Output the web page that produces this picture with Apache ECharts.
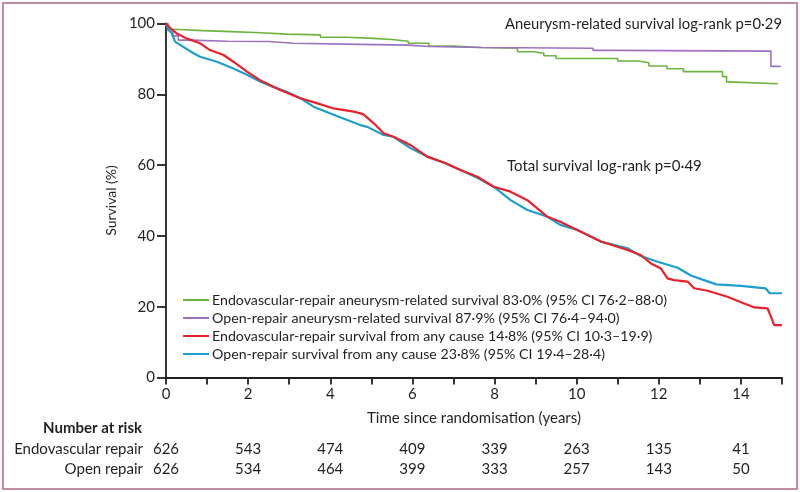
<!DOCTYPE html>
<html><head><meta charset="utf-8">
<script src="https://cdn.jsdelivr.net/npm/echarts@6/dist/echarts.min.js"></script>
<style>html,body{margin:0;padding:0;background:#fff}#c{width:800px;height:492px}</style>
</head><body><div id="c"></div>
<script>
const seriesNames = [
  'Endovascular-repair aneurysm-related survival 83·0% (95% CI 76·2–88·0)',
  'Open-repair aneurysm-related survival 87·9% (95% CI 76·4–94·0)',
  'Endovascular-repair survival from any cause 14·8% (95% CI 10·3–19·9)',
  'Open-repair survival from any cause 23·8% (95% CI 19·4–28·4)'
];
const endoAneurysm = [[0,100],[0.03,99.0],[0.08,98.3],[0.3,98.0],[0.9,97.7],[1.6,97.4],[2.3,97.0],[2.95,96.8],[3.76,96.1],[4.4,95.8],[5.05,95.5],[5.5,95.0],[5.9,94.4],[6.4,93.6],[7.0,93.2],[7.66,93.0],[8.56,92.0],[8.95,91.6],[9.2,90.9],[9.5,90.1],[11.0,89.4],[11.5,88.9],[11.76,88.0],[12.2,87.2],[12.6,86.4],[13.55,85.0],[13.65,83.5],[13.7,83.0],[14.9,83.0]];
const openAneurysm = [[0,100],[0.05,98.0],[0.17,96.5],[0.3,95.3],[0.6,95.0],[1.5,94.9],[2.5,94.4],[3.1,94.1],[4.7,93.9],[5.9,93.5],[6.4,93.2],[7.7,93.0],[10.4,92.4],[11.0,92.2],[14.73,87.9],[14.97,87.9]];
const endoAnyCause = [[0,100],[0.1,98.8],[0.26,97.2],[0.5,95.8],[0.83,94.4],[1.07,92.5],[1.4,91.1],[1.64,89.2],[1.97,86.4],[2.29,84.0],[2.78,81.2],[3.27,78.9],[3.67,77.5],[4.08,76.0],[4.57,75.1],[4.8,74.4],[5.06,71.8],[5.3,69.0],[5.54,68.0],[5.95,65.7],[6.36,62.4],[6.8,60.6],[7.17,58.6],[7.58,56.7],[7.98,53.9],[8.39,52.5],[8.8,50.1],[9.29,45.4],[9.6,44.0],[10.1,41.2],[10.59,38.4],[11.24,36.0],[11.56,34.6],[11.8,32.3],[12.05,30.8],[12.21,28.0],[12.37,27.5],[12.7,27.1],[12.86,25.2],[13.19,24.5],[13.67,22.8],[14.08,20.9],[14.33,19.8],[14.65,19.5],[14.73,17.2],[14.81,14.8],[15.0,14.8]];
const openAnyCause = [[0,100],[0.05,98.5],[0.14,97.2],[0.22,94.9],[0.42,93.4],[0.67,91.6],[0.83,90.6],[1.24,89.2],[1.64,87.3],[1.97,85.5],[2.29,83.6],[2.61,82.1],[2.94,80.7],[3.27,78.9],[3.59,76.5],[4.08,74.2],[4.73,71.3],[4.9,70.8],[5.3,68.5],[5.54,68.0],[5.95,64.8],[6.36,62.4],[6.8,60.5],[7.17,58.6],[7.58,56.4],[7.98,53.9],[8.39,50.1],[8.8,47.3],[9.29,45.4],[9.6,43.1],[10.02,41.7],[10.59,38.4],[11.24,36.5],[11.56,34.3],[11.97,32.7],[12.46,31.0],[12.78,28.8],[13.03,27.8],[13.4,26.3],[14.0,25.9],[14.6,25.2],[14.7,23.8],[15.0,23.8]];
const riskYears = [0,2,4,6,8,10,12,14];
const riskEndo = [626,543,474,409,339,263,135,41];
const riskOpen = [626,534,464,399,333,257,143,50];
const yTicks = [0,20,40,60,80,100];

const FONT = 'Lato';
const TXT = '#231f20';
const colors = ['#6db33f','#9b72c2','#e8222a','#1c9fca'];

function riskFmt(arr){ return v => { const i = riskYears.indexOf(v); return i >= 0 ? String(arr[i]) : ''; }; }

const chart = echarts.init(document.getElementById('c'), null, {renderer:'canvas'});
const riskAxisBase = {
  type:'value', min:0, max:15, interval:1, position:'bottom',
  axisLine:{show:false}, axisTick:{show:false}, splitLine:{show:false}
};
chart.setOption({
  animation:false,
  textStyle:{fontFamily:FONT},
  grid:{left:166, right:18, top:23.5, bottom:114.5, containLabel:false},
  xAxis:[{
    type:'value', min:0, max:15, interval:1,
    name:'Time since randomisation (years)', nameLocation:'middle', nameGap:33,
    nameTextStyle:{fontFamily:FONT, fontSize:15, color:TXT},
    axisLine:{show:true, onZero:false, lineStyle:{color:TXT, width:1.8}},
    axisTick:{show:true, length:7, lineStyle:{color:TXT, width:1.8}},
    axisLabel:{margin:9, fontFamily:FONT, fontSize:15, color:TXT, formatter: v => (v % 2 === 0 ? String(v) : '')},
    splitLine:{show:false}
  },
  Object.assign({}, riskAxisBase, {gridIndex:0, offset:71.5, axisLabel:{margin:0, verticalAlign:'middle', fontFamily:FONT, fontSize:15, color:TXT, formatter:riskFmt(riskEndo)}}),
  Object.assign({}, riskAxisBase, {gridIndex:0, offset:91.5, axisLabel:{margin:0, verticalAlign:'middle', fontFamily:FONT, fontSize:15, color:TXT, formatter:riskFmt(riskOpen)}})
  ],
  yAxis:{
    type:'value', min:0, max:100, interval:20,
    name:'Survival (%)', nameLocation:'middle', nameGap:46, nameRotate:90,
    nameTextStyle:{fontFamily:FONT, fontSize:14, color:TXT},
    axisLine:{show:true, lineStyle:{color:TXT, width:1.8}},
    axisTick:{show:true, length:9, lineStyle:{color:TXT, width:1.8}},
    axisLabel:{margin:11, fontFamily:FONT, fontSize:15, color:TXT, formatter: v => (yTicks.includes(v) ? String(v) : '')},
    splitLine:{show:false}
  },
  legend:{
    orient:'vertical', left:178, top:288, itemWidth:26, itemHeight:2, itemGap:4,
    icon:'rect',
    textStyle:{fontFamily:FONT, fontSize:14.2, color:TXT, padding:[0,0,0,-2]},
    data: seriesNames
  },
  series:[
    {name:seriesNames[0], type:'line', step:'end', data:endoAneurysm, showSymbol:false, lineStyle:{width:1.6, color:colors[0]}, itemStyle:{color:colors[0]}, z:2},
    {name:seriesNames[1], type:'line', step:'end', data:openAneurysm, showSymbol:false, lineStyle:{width:1.6, color:colors[1]}, itemStyle:{color:colors[1]}, z:2},
    {name:seriesNames[2], type:'line', data:endoAnyCause, showSymbol:false, lineStyle:{width:2.2, color:colors[2]}, itemStyle:{color:colors[2]}, z:4},
    {name:seriesNames[3], type:'line', data:openAnyCause, showSymbol:false, lineStyle:{width:2.2, color:colors[3]}, itemStyle:{color:colors[3]}, z:3}
  ],
  graphic:[
    {type:'rect', shape:{x:3, y:3, width:794, height:486}, style:{fill:'none', stroke:'#bf8aa0', lineWidth:2}, silent:true},
    {type:'text', x:782, y:24, style:{text:'Aneurysm-related survival log-rank p=0·29', font:'14.8px Lato', fill:TXT, textAlign:'right', textVerticalAlign:'middle'}},
    {type:'text', x:507, y:166, style:{text:'Total survival log-rank p=0·49', font:'15px Lato', fill:TXT, textAlign:'left', textVerticalAlign:'middle'}},
    {type:'text', x:142, y:428, style:{text:'Number at risk', font:'bold 15px Lato', fill:TXT, textAlign:'right', textVerticalAlign:'middle'}},
    {type:'text', x:143, y:449, style:{text:'Endovascular repair', font:'15px Lato', fill:TXT, textAlign:'right', textVerticalAlign:'middle'}},
    {type:'text', x:143, y:469, style:{text:'Open repair', font:'15px Lato', fill:TXT, textAlign:'right', textVerticalAlign:'middle'}}
  ]
});
</script></body></html>
